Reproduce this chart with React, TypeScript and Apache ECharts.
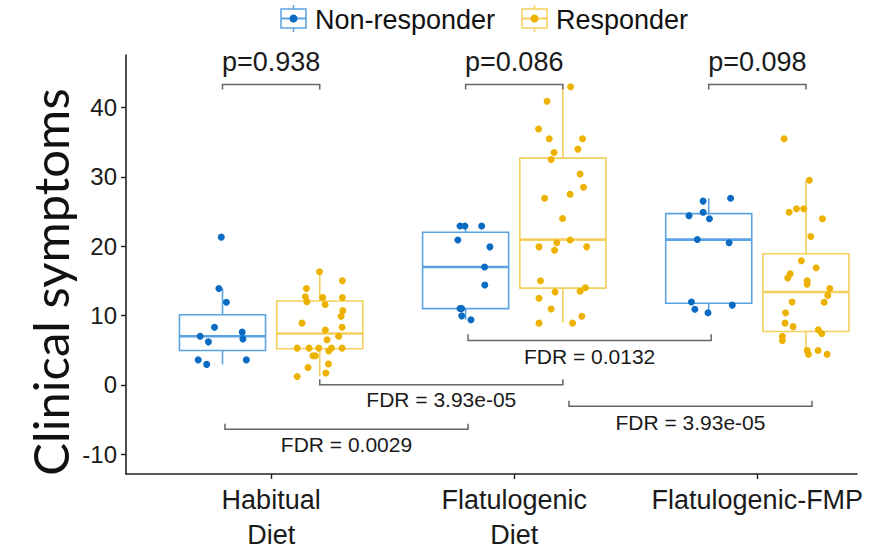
import React, { useEffect, useRef } from "react";
import * as echarts from "echarts";

const CATEGORIES = ["Habitual\nDiet", "Flatulogenic\nDiet", "Flatulogenic-FMP"];
const GROUPS = ["Non-responder", "Responder"];
const Y_TICKS = [-10, 0, 10, 20, 30, 40];
const Y_TITLE = "Clinical symptoms";

// box statistics per category: [lower whisker, Q1, median, Q3, upper whisker]
const BOX_NR = [
  [2.95, 4.95, 7.0, 10.1, 13.9],
  [9.4, 11.0, 17.0, 22.0, 22.9],
  [10.4, 11.76, 20.95, 24.7, 26.9],
];
const BOX_R = [
  [1.2, 5.2, 7.4, 12.1, 16.3],
  [9.0, 13.95, 20.95, 32.7, 43.0],
  [4.4, 7.7, 13.4, 18.9, 29.5],
];

// individual observations: [jitter (category units), value]
const HAB_NR = [
  [-0.005, 21.3], [-0.015, 13.9], [0.016, 11.9], [-0.033, 8.3], [-0.092, 7.0], [-0.058, 6.2],
  [0.081, 7.6], [0.084, 6.6], [-0.1, 3.6], [-0.065, 2.95], [0.098, 3.6],
];
const HAB_R = [
  [-0.001, 16.3], [0.093, 15.0], [-0.055, 13.9], [-0.059, 12.7], [-0.053, 12.0], [0.012, 12.6],
  [0.093, 12.6], [0.022, 11.6], [0.095, 10.7], [0.088, 9.9], [-0.073, 8.9], [0.092, 8.3],
  [0.023, 7.9], [0.078, 7.0], [0.03, 6.5], [-0.093, 5.3], [-0.044, 5.3], [-0.004, 5.3],
  [0.048, 5.3], [0.092, 5.3], [0.037, 4.9], [-0.028, 4.2], [-0.018, 4.2], [0.036, 3.0],
  [-0.048, 2.5], [0.025, 1.7], [-0.093, 1.2],
];
const FLAT_NR = [
  [-0.023, 22.9], [-0.003, 22.9], [0.066, 22.9], [-0.032, 20.9], [0.1, 19.9], [0.078, 17.0],
  [0.079, 14.4], [-0.023, 11.0], [-0.016, 11.0], [-0.016, 9.95], [0.022, 9.4],
];
const FLAT_R = [
  [0.032, 43.0], [-0.065, 40.9], [-0.1, 36.9], [-0.056, 35.5], [0.081, 35.5], [0.062, 34.0],
  [-0.036, 33.5], [-0.048, 32.5], [0.071, 30.4], [0.085, 28.5], [-0.075, 26.9], [0.03, 27.5],
  [-0.001, 24.0], [0.03, 20.9], [-0.025, 20.5], [-0.098, 19.9], [-0.034, 19.4], [0.098, 19.9],
  [-0.092, 15.0], [-0.032, 13.4], [0.093, 14.0], [0.071, 13.5], [-0.098, 12.5], [-0.048, 10.95],
  [0.078, 9.9], [-0.098, 8.9], [0.04, 8.9],
];
const FMP_NR = [
  [0.09, 26.9], [-0.023, 26.5], [-0.023, 24.9], [-0.081, 24.4], [0.003, 23.95], [-0.047, 20.95],
  [0.084, 20.5], [-0.071, 11.95], [0.097, 11.5], [-0.057, 10.9], [-0.003, 10.4],
];
const FMP_R = [
  [-0.09, 35.5], [0.014, 29.5], [-0.069, 24.9], [-0.039, 25.4], [-0.009, 25.4], [0.068, 23.95],
  [0.02, 21.4], [-0.019, 17.9], [0.042, 16.9], [-0.065, 16.0], [-0.075, 15.4], [0.005, 15.0],
  [0.005, 14.5], [0.098, 13.9], [0.09, 12.9], [-0.057, 11.95], [0.075, 11.9], [-0.084, 10.4],
  [-0.086, 8.9], [-0.053, 8.4], [0.051, 7.95], [0.065, 7.4], [-0.097, 7.0], [-0.097, 6.4],
  [0.005, 4.95], [0.01, 4.4], [0.05, 4.95], [0.087, 4.4],
];
const POINTS_NR = [HAB_NR, FLAT_NR, FMP_NR];
const POINTS_R = [HAB_R, FLAT_R, FMP_R];

const P_LABELS = ["p=0.938", "p=0.086", "p=0.098"];
const FDR_LABELS = ["FDR = 0.0029", "FDR = 3.93e-05", "FDR = 0.0132", "FDR = 3.93e-05"];

// ---- layout (positions in axis units) ----
const X_MIN = 0.403;
const X_MAX = 3.41;
const Y_MIN = -12.857;
const Y_MAX = 47.57;
const DODGE = 0.2;
const BOX_W = 0.354;
// p brackets: y, tick end, text y
const P_BRACKET = { y: 43.3, tick: 42.6, text: 46.6 };
// FDR brackets: [x1, x2, y, tick end, text y]
const FDR_BRACKETS = [
  [0.81, 1.81, -6.4, -5.6, -8.6],
  [1.2, 2.2, 0.0, 0.8, -2.1],
  [1.81, 2.81, 6.4, 7.3, 4.1],
  [2.225, 3.225, -3.1, -2.3, -5.4],
];

const NR_DOT = "#0A6BC2";
const NR_LINE = "#5AA2E2";
const R_DOT = "#EDB200";
const R_LINE = "#F4CF5E";
const FONT = "'Liberation Sans', Arial, sans-serif";

export default function App() {
  const ref = useRef<HTMLDivElement>(null);

  useEffect(() => {
    if (!ref.current) return;
    const chart = echarts.init(ref.current, null, { renderer: "svg" });

    const boxData: number[][] = [];
    BOX_NR.forEach((b, i) => boxData.push([i + 1 - DODGE, ...b, 0]));
    BOX_R.forEach((b, i) => boxData.push([i + 1 + DODGE, ...b, 1]));

    const nrPts: number[][] = [];
    POINTS_NR.forEach((arr, i) => arr.forEach(([j, v]) => nrPts.push([i + 1 - DODGE + j, v])));
    const rPts: number[][] = [];
    POINTS_R.forEach((arr, i) => arr.forEach(([j, v]) => rPts.push([i + 1 + DODGE + j, v])));

    const bracketData: any[] = [];
    P_LABELS.forEach((_, i) =>
      bracketData.push([i + 1 - DODGE, i + 1 + DODGE, P_BRACKET.y, P_BRACKET.tick, P_BRACKET.text, i, 0])
    );
    FDR_BRACKETS.forEach((b, i) => bracketData.push([...b, i, 1]));

    const option: any = {
      animation: false,
      backgroundColor: "#ffffff",
      grid: { left: 126, right: 38, top: 55, bottom: 74 },
      xAxis: {
        type: "value",
        min: X_MIN,
        max: X_MAX,
        splitLine: { show: false },
        axisLine: { show: true, onZero: false, lineStyle: { color: "#222", width: 1.6 } },
        axisTick: { show: true, length: 5, customValues: [1, 2, 3], lineStyle: { color: "#222", width: 1.4 } },
        axisLabel: {
          customValues: [1, 2, 3],
          formatter: (v: number) => CATEGORIES[Math.round(v) - 1] ?? "",
          fontFamily: FONT,
          fontSize: 27,
          lineHeight: 35,
          color: "#1a1a1a",
          margin: 8,
        },
      },
      yAxis: {
        type: "value",
        min: Y_MIN,
        max: Y_MAX,
        splitLine: { show: false },
        axisLine: { show: true, lineStyle: { color: "#222", width: 1.6 } },
        axisTick: { show: true, length: 5, customValues: Y_TICKS, lineStyle: { color: "#222", width: 1.4 } },
        axisLabel: {
          customValues: Y_TICKS,
          fontFamily: FONT,
          fontSize: 24,
          color: "#1a1a1a",
          margin: 9,
        },
      },
      graphic: [
        {
          type: "text",
          x: 50,
          y: 282,
          rotation: Math.PI / 2,
          style: {
            text: Y_TITLE,
            fontFamily: "Lato, 'Open Sans', sans-serif",
            fontSize: 49,
            fill: "#111",
            align: "center",
            verticalAlign: "middle",
          },
        },
        // legend
        ...[0, 1].map((g) => {
          const x0 = g === 0 ? 281 : 522;
          const line = g === 0 ? NR_LINE : R_LINE;
          const dot = g === 0 ? NR_DOT : R_DOT;
          return {
            type: "group",
            x: x0,
            y: 0,
            children: [
              { type: "line", shape: { x1: 12.5, y1: 5, x2: 12.5, y2: 32 }, style: { stroke: line, lineWidth: 1.5 } },
              { type: "rect", shape: { x: 0, y: 9, width: 25, height: 19 }, style: { fill: "#fff", stroke: line, lineWidth: 1.5 } },
              { type: "line", shape: { x1: 0, y1: 18.5, x2: 25, y2: 18.5 }, style: { stroke: line, lineWidth: 2 } },
              { type: "circle", shape: { cx: 12.5, cy: 18.5, r: 4 }, style: { fill: dot } },
              {
                type: "text",
                x: 34,
                y: 20,
                style: {
                  text: GROUPS[g],
                  fontFamily: FONT,
                  fontSize: 27,
                  fill: "#111",
                  verticalAlign: "middle",
                },
              },
            ],
          };
        }),
      ],
      series: [
        {
          type: "custom",
          name: "boxes",
          data: boxData,
          encode: { x: 0, y: [1, 2, 3, 4, 5] },
          z: 2,
          renderItem: (params: any, api: any) => {
            const pos = api.value(0);
            const g = api.value(6);
            const stroke = g === 0 ? NR_LINE : R_LINE;
            const hw = api.size([BOX_W, 0])[0] / 2;
            const [cx, yLo] = api.coord([pos, api.value(1)]);
            const yQ1 = api.coord([pos, api.value(2)])[1];
            const yMed = api.coord([pos, api.value(3)])[1];
            const yQ3 = api.coord([pos, api.value(4)])[1];
            const yHi = api.coord([pos, api.value(5)])[1];
            return {
              type: "group",
              children: [
                { type: "line", shape: { x1: cx, y1: yLo, x2: cx, y2: yQ1 }, style: { stroke, lineWidth: 1.6 } },
                { type: "line", shape: { x1: cx, y1: yQ3, x2: cx, y2: yHi }, style: { stroke, lineWidth: 1.6 } },
                {
                  type: "rect",
                  shape: { x: cx - hw, y: yQ3, width: hw * 2, height: yQ1 - yQ3 },
                  style: { fill: "none", stroke, lineWidth: 1.6 },
                },
                { type: "line", shape: { x1: cx - hw, y1: yMed, x2: cx + hw, y2: yMed }, style: { stroke, lineWidth: 2.6 } },
              ],
            };
          },
        },
        {
          type: "scatter",
          name: GROUPS[0],
          data: nrPts,
          symbolSize: 7,
          z: 3,
          itemStyle: { color: NR_DOT, opacity: 1 },
        },
        {
          type: "scatter",
          name: GROUPS[1],
          data: rPts,
          symbolSize: 7,
          z: 3,
          itemStyle: { color: R_DOT, opacity: 1 },
        },
        {
          type: "custom",
          name: "brackets",
          data: bracketData,
          encode: { x: [0, 1], y: [2, 3, 4] },
          z: 4,
          renderItem: (params: any, api: any) => {
            const x1 = api.value(0);
            const x2 = api.value(1);
            const y = api.value(2);
            const t = api.value(3);
            const ty = api.value(4);
            const idx = api.value(5);
            const kind = api.value(6);
            const a = api.coord([x1, t]);
            const b = api.coord([x1, y]);
            const c = api.coord([x2, y]);
            const d = api.coord([x2, t]);
            const tc = api.coord([(x1 + x2) / 2, ty]);
            const label = kind === 0 ? P_LABELS[idx] : FDR_LABELS[idx];
            return {
              type: "group",
              children: [
                {
                  type: "polyline",
                  shape: { points: [a, b, c, d] },
                  style: { stroke: "#666", lineWidth: 1.5, fill: "none" },
                },
                {
                  type: "text",
                  x: tc[0],
                  y: tc[1],
                  style: {
                    text: label,
                    fontFamily: FONT,
                    fontSize: kind === 0 ? 27 : 21,
                    fill: "#1a1a1a",
                    align: "center",
                    verticalAlign: "middle",
                  },
                },
              ],
            };
          },
        },
      ],
    };

    chart.setOption(option);
    return () => chart.dispose();
  }, []);

  return <div ref={ref} style={{ position: "absolute", left: 0, top: 0, width: 895, height: 552 }} />;
}
